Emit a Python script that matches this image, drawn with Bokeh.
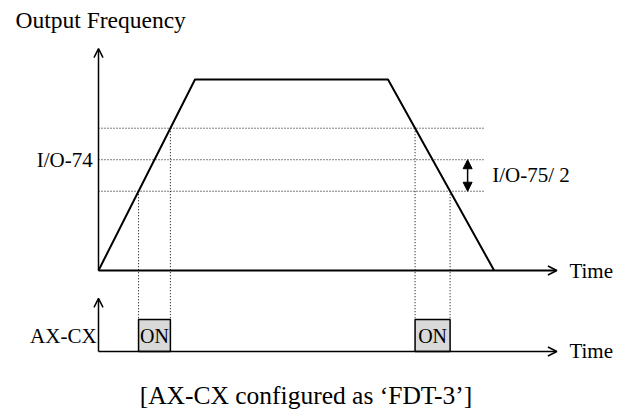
from bokeh.plotting import figure
from bokeh.models import Range1d, Arrow, OpenHead, NormalHead
from bokeh.core.properties import value
from bokeh.embed import file_html
from bokeh.resources import INLINE
import numpy as np

# ---- data ----
ramp_t = [0, 10, 30, 41]          # time points of the output frequency profile
ramp_f = [0, 100, 100, 0]         # output frequency (%)
io74 = 58.0                       # I/O-74 detection frequency
io75 = 33.0                       # I/O-75 hysteresis band
level_labels = ["I/O-74", "I/O-75/ 2"]
signal_label = "AX-CX"
on_label = "ON"
x_label = "Time"
y_label = "Output Frequency"
caption = "[AX-CX configured as \u2018FDT-3\u2019]"

upper = io74 + io75 / 2
lower = io74 - io75 / 2

# crossings of the ramp with the band edges
t_rise = np.array(ramp_t[:2], float); f_rise = np.array(ramp_f[:2], float)
t_fall = np.array(ramp_t[2:], float)[::-1]; f_fall = np.array(ramp_f[2:], float)[::-1]
on1_start = np.interp(lower, f_rise, t_rise)
on1_end = np.interp(upper, f_rise, t_rise)
on2_start = np.interp(upper, f_fall, t_fall)
on2_end = np.interp(lower, f_fall, t_fall)
on_starts = [on1_start, on2_start]
on_ends = [on1_end, on2_end]
on_start_lv = [lower, upper]
on_end_lv = [upper, lower]

# ---- layout (units of the chart scales) ----
sx, sy = 9.65, 1.91
W, H = 617, 419
ox, oy = 98, 270
t_axis_end = 47.5
f_axis_top = 116.2
dot_end = 40.0
sig_base = -42.4
sig_high = -25.7
sig_top = -14.6

FONT = value("Liberation Serif")

p = figure(width=W, height=H, output_backend="svg", toolbar_location=None,
           x_range=Range1d(-ox / sx, (W - ox) / sx),
           y_range=Range1d(-(H - oy) / sy, oy / sy),
           x_axis_location=None, y_axis_location=None, min_border=0)
p.grid.visible = False
p.outline_line_color = None
p.background_fill_color = "white"

# dotted level lines
for lv in [upper, io74, lower]:
    p.line([0, dot_end], [lv, lv], line_color="black", line_width=1, line_dash="1 2")

# vertical dotted guides from crossings down to the ON boxes
for ts, te, ls, le in zip(on_starts, on_ends, on_start_lv, on_end_lv):
    p.line([ts, ts], [ls, sig_high], line_color="black", line_width=1, line_dash="1 2")
    p.line([te, te], [le, sig_high], line_color="black", line_width=1, line_dash="1 2")

# frequency profile
p.line(ramp_t, ramp_f, line_color="black", line_width=2)

# axes with arrows (top panel)
p.add_layout(Arrow(end=OpenHead(size=9, line_width=1.5, line_color="black"),
                   x_start=0, y_start=0, x_end=0, y_end=f_axis_top,
                   line_width=1.5, line_color="black"))
p.add_layout(Arrow(end=OpenHead(size=9, line_width=1.5, line_color="black"),
                   x_start=0, y_start=0, x_end=t_axis_end, y_end=0,
                   line_width=2, line_color="black"))

# hysteresis double arrow
dx = 38.25
p.add_layout(Arrow(start=NormalHead(size=9, fill_color="black", line_color="black"),
                   end=NormalHead(size=9, fill_color="black", line_color="black"),
                   x_start=dx, y_start=lower, x_end=dx, y_end=io74,
                   line_width=1.5, line_color="black"))

# signal panel
p.quad(left=on_starts, right=on_ends, bottom=[sig_base] * 2, top=[sig_high] * 2,
       fill_color="#d9d9d9", line_color="black", line_width=1.5)
p.add_layout(Arrow(end=OpenHead(size=9, line_width=1.5, line_color="black"),
                   x_start=0, y_start=sig_base, x_end=0, y_end=sig_top,
                   line_width=1.5, line_color="black"))
p.add_layout(Arrow(end=OpenHead(size=9, line_width=1.5, line_color="black"),
                   x_start=0, y_start=sig_base, x_end=t_axis_end, y_end=sig_base,
                   line_width=1.5, line_color="black"))

# texts
p.text(x=[-8.6], y=[131.0], text=[y_label], text_font=FONT, text_font_size=value("23.5px"),
       text_align="left", text_baseline="middle", text_color="black")
p.text(x=[-0.6], y=[io74], text=[level_labels[0]], text_font=FONT, text_font_size=value("21px"),
       text_align="right", text_baseline="middle", text_color="black")
p.text(x=[40.8], y=[(lower + io74) / 2], text=[level_labels[1]], text_font=FONT,
       text_font_size=value("21px"), text_align="left", text_baseline="middle", text_color="black")
p.text(x=[48.8, 48.8], y=[0, sig_base], text=[x_label, x_label], text_font=FONT,
       text_font_size=value("21px"), text_align="left", text_baseline="middle", text_color="black")
p.text(x=[-0.2], y=[(sig_base + sig_high) / 2], text=[signal_label], text_font=FONT,
       text_font_size=value("21px"), text_align="right", text_baseline="middle", text_color="black")
p.text(x=[(a + b) / 2 for a, b in zip(on_starts, on_ends)], y=[(sig_base + sig_high) / 2] * 2,
       text=[on_label] * 2, text_font=FONT, text_font_size=value("20px"),
       text_align="center", text_baseline="middle", text_color="black")
p.text(x=[21.5], y=[-65.2], text=[caption], text_font=FONT, text_font_size=value("25.5px"),
       text_align="center", text_baseline="middle", text_color="black")

open("out.html", "w").write(file_html(p, INLINE))
